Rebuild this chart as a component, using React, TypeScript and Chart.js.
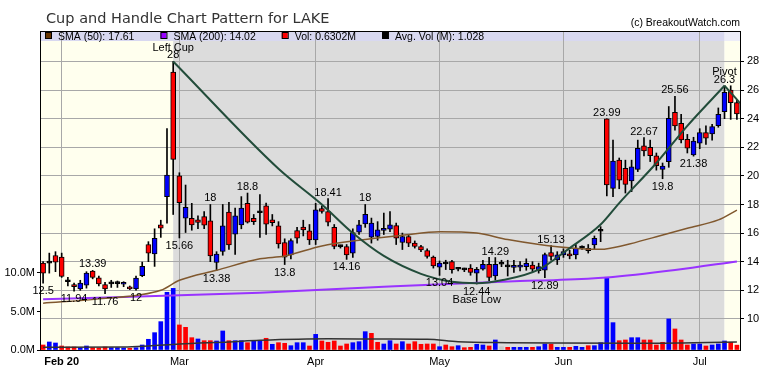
import React, { useEffect, useRef } from 'react';
import Chart from 'chart.js/auto';

// ---- candle data (trading-day index 0 = Jan 29 2020) ----
const opens = [
  13.9, 13.9, 14.43, 14.32, 12.65, 12.4, 12.1, 12.36, 13.35, 12.87,
  12.4, 12.45, 12.47, 12.42, 12.23, 12.1, 13.02, 15.2, 14.55, 16.57,
  18.55, 27.26, 20.0, 17.04, 17.04, 16.92, 17.15, 16.85, 13.94, 14.71,
  17.46, 15.92, 16.57, 18.08, 17.04, 17.45, 17.9, 16.92, 16.5, 15.34,
  14.48, 16.18, 16.42, 16.15, 15.53, 17.72, 17.5, 16.4, 15.07, 15.06,
  14.6, 16.06, 16.64, 15.71, 15.76, 16.18, 16.27, 16.52, 15.34, 15.76,
  15.3, 15.06, 14.78, 14.32, 13.62, 13.86, 14.0, 13.5, 13.45, 13.55,
  13.19, 13.47, 13.82, 13.0, 13.85, 13.66, 13.6, 13.62, 13.65, 13.77,
  13.37, 13.4, 14.64, 14.13, 14.48, 14.55, 14.48, 14.98, 14.94, 15.17,
  16.17, 23.99, 19.13, 21.1, 20.53, 19.64, 20.46, 22.1, 22.0, 21.41,
  20.46, 20.99, 24.45, 23.68, 22.56, 21.46, 22.28, 23.02, 22.93, 23.51,
  24.49, 26.0, 25.12,
];
const highs = [
  14.0, 14.6, 14.7, 14.6, 12.9, 12.5, 12.7, 13.3, 13.39, 13.0,
  12.55, 12.7, 12.65, 12.6, 12.3, 13.0, 13.97, 15.4, 16.3, 16.9,
  23.3, 28, 20.22, 19.36, 18.08, 17.2, 17.5, 18, 14.7, 18.0,
  18.15, 17.75, 18.55, 18.8, 17.3, 18.7, 18.1, 17.3, 16.8, 15.6,
  15.6, 16.4, 16.9, 16.6, 18.08, 17.9, 18.41, 16.6, 15.15, 15.2,
  16.3, 16.9, 18, 17.05, 16.8, 17.4, 17.5, 16.7, 16.0, 15.9,
  15.45, 15.15, 14.9, 14.4, 14.05, 14.1, 14.1, 13.6, 13.55, 13.8,
  13.6, 14.1, 14.3, 14.29, 14.1, 14.1, 14.1, 14.0, 14.2, 14.0,
  13.9, 14.6, 15.13, 14.7, 14.9, 14.8, 15.2, 15.1, 15.2, 15.8,
  16.45, 23.99, 22.5, 21.25, 21.1, 21.1, 22.5, 22.67, 22.5, 21.6,
  20.9, 24.85, 25.56, 24.3, 22.9, 22.7, 23.3, 23.5, 23.6, 24.75,
  26.3, 26.3, 25.3,
];
const lows = [
  12.5, 13.2, 13.3, 12.9, 12.3, 11.94, 12.0, 12.15, 12.8, 12.3,
  11.76, 12.2, 12.2, 12.25, 12.05, 12, 12.95, 14.0, 13.67, 15.7,
  16.7, 17.3, 15.66, 16.04, 16.2, 16.3, 16.3, 14.0, 13.38, 14.45,
  14.85, 14.5, 16.3, 16.7, 16.6, 15.7, 15.9, 16.5, 14.95, 13.8,
  14.2, 15.3, 15.8, 15.2, 15.2, 17.4, 16.5, 14.9, 14.95, 14.16,
  14.3, 15.9, 16.4, 15.3, 15.5, 15.9, 16.1, 15.2, 14.85, 15.05,
  14.95, 14.7, 14.25, 13.55, 13.04, 13.45, 13.2, 13.35, 13.3, 13.05,
  12.44, 13.4, 12.67, 12.72, 13.65, 13.0, 13.25, 13.35, 13.4, 13.3,
  13.2, 12.89, 14.1, 13.8, 14.3, 14.2, 14.2, 14.85, 14.6, 14.85,
  15.4, 18.6, 18.55, 19.1, 18.8, 18.9, 20.3, 21.4, 21.0, 20.4,
  19.8, 20.6, 23.2, 22.3, 21.6, 21.38, 21.9, 22.2, 22.5, 23.4,
  24.0, 23.95, 23.95,
];
const closes = [
  13.2, 13.92, 13.97, 12.97, 12.6, 12.25, 12.5, 13.2, 12.9, 12.45,
  12.1, 12.47, 12.48, 12.5, 12.1, 12.86, 13.67, 14.6, 15.64, 16.35,
  20.06, 21.15, 18.13, 17.8, 16.57, 16.75, 16.55, 14.41, 14.53, 16.5,
  15.18, 17.2, 17.74, 16.76, 16.8, 17.42, 16.62, 16.73, 15.25, 14.32,
  15.48, 15.65, 16.22, 15.53, 17.62, 17.52, 16.76, 15.06, 15.05, 14.48,
  16.04, 16.57, 17.32, 16.7, 16.22, 16.34, 16.57, 15.64, 15.76, 15.3,
  15.06, 14.83, 14.36, 13.71, 13.9, 13.84, 13.44, 13.47, 13.43, 13.25,
  13.47, 13.82, 12.9, 13.82, 13.82, 13.64, 13.72, 13.74, 13.89, 13.47,
  13.65, 14.5, 14.36, 14.48, 14.71, 14.4, 14.94, 14.96, 14.77, 15.64,
  16.13, 19.36, 21.04, 19.7, 19.41, 20.64, 21.93, 21.74, 21.41, 20.71,
  20.69, 24.03, 23.5, 22.51, 21.93, 22.44, 23.02, 22.63, 23.44, 24.31,
  25.85, 25.12, 24.33,
];
// volume in millions
const volumes = [
  0.65, 1.04, 0.91, 0.52, 0.39, 0.39, 0.3, 0.52, 0.3, 0.26,
  0.39, 0.3, 0.3, 0.26, 0.22, 0.3, 0.65, 1.39, 2.25, 3.68,
  7.49, 8.0, 3.25, 2.94, 1.6, 1.43, 1.21, 1.21, 1.17, 2.47,
  1.21, 1.21, 1.21, 0.95, 1.2, 1.25, 1.52, 0.74, 0.95, 0.87,
  0.56, 0.95, 0.95, 0.52, 2.03, 1.17, 1.0, 1.17, 0.52, 0.78,
  0.95, 1.08, 2.38, 2.16, 1.0, 0.78, 1.21, 0.78, 1.08, 0.78,
  1.08, 0.74, 0.78, 0.78, 0.43, 0.65, 0.43, 0.56, 0.3, 0.35,
  0.74, 0.65, 0.52, 1.3, 0.43, 0.35, 0.35, 0.35, 0.35, 0.35,
  0.43, 0.78, 0.74, 0.35, 0.35, 0.35, 0.48, 0.35, 0.56, 0.56,
  0.95, 9.44, 3.55, 1.21, 1.3, 1.6, 1.6, 1.3, 1.3, 0.65,
  1.0, 4.03, 2.73, 1.3, 0.65, 0.78, 0.78, 0.52, 0.65, 0.78,
  1.17, 1.0, 0.63,
];

// ---- indicator lines (index, value) ----
const sma50Idx = [0, 9, 19, 22, 28, 35, 39, 45, 51, 58, 64, 70, 75, 83, 90, 94, 99, 104, 109, 112];
const sma50Val = [11.1, 11.4, 12.0, 12.7, 13.4, 14.2, 14.4, 15.1, 15.5, 15.85, 16.1, 16.0, 15.55, 15.05, 14.87, 15.17, 15.75, 16.34, 16.92, 17.61];
const sma200Idx = [0, 35, 55, 77, 83, 91, 102, 112];
const sma200Val = [11.37, 11.83, 12.25, 12.65, 12.72, 12.9, 13.42, 14.02];
const avgVolIdx = [0, 13, 17, 22, 30, 35, 46, 55, 62, 67, 75, 83, 95, 105, 112];
const avgVolVal = [0.35, 0.38, 0.52, 0.78, 1.05, 1.25, 1.45, 1.43, 1.4, 1.08, 0.95, 0.9, 0.87, 0.95, 1.03];

// ---- cup & handle pattern ----
const cupIdx = [21, 38, 45, 50, 55, 61, 66, 70, 74, 80, 85, 90, 93, 99, 104, 110];
const cupVal = [28, 20.5, 18.0, 16.0, 14.4, 13.15, 12.6, 12.5, 12.7, 13.45, 14.95, 16.6, 18.1, 20.9, 23.5, 26.3];
const handleIdx = [110, 112.5];
const handleVal = [26.3, 25.1];
const leftCupIdx = 21;
const pivotIdx = 110;

// ---- labels ----
const highLabelIdx = [8, 21, 27, 33, 46, 52, 73, 82, 91, 97, 102, 110];
const lowLabelIdx = [0, 5, 10, 15, 22, 28, 39, 49, 64, 70, 81, 100, 105];
const noteText = ['Left Cup', 'Base Low', 'Pivot'];
const noteIdx = [21, 70, 110];
const noteAbove = [true, false, true];

const monthTickIdx = [3, 22, 44, 64, 84, 106];
const monthLabels = ['Feb 20', 'Mar', 'Apr', 'May', 'Jun', 'Jul'];
const priceTicks = [10, 12, 14, 16, 18, 20, 22, 24, 26, 28];
const volTicks = [0, 5, 10];
const volTickLabels = ['0.0M', '5.0M', '10.0M'];

const legendNames = ['SMA (50): 17.61', 'SMA (200): 14.02', 'Vol: 0.6302M', 'Avg. Vol (M): 1.028'];
const legendColors = ['#663300', '#9900ff', '#ff0000', '#000000'];
const titleText = 'Cup and Handle Chart Pattern for LAKE';
const creditText = '(c) BreakoutWatch.com';

const FONT = "'Liberation Sans', Arial, sans-serif";

const decorPlugin = {
  id: 'decor',
  beforeDraw(chart: any) {
    const { ctx, chartArea: ca, scales } = chart;
    const xs = scales.x;
    const xl = xs.getPixelForValue(leftCupIdx);
    const xp = xs.getPixelForValue(pivotIdx);
    const h = ca.bottom - ca.top;
    ctx.save();
    ctx.fillStyle = '#ffffee';
    ctx.fillRect(ca.left, ca.top, xl - ca.left, h);
    ctx.fillStyle = '#dcdcdc';
    ctx.fillRect(xl, ca.top, xp - xl, h);
    ctx.fillStyle = '#ffffee';
    ctx.fillRect(xp, ca.top, ca.right - xp, h);
    ctx.fillStyle = '#d8d8f0';
    ctx.fillRect(ca.left, ca.top, xp - ca.left, 10);
    ctx.fillStyle = '#ededf8';
    ctx.fillRect(xp, ca.top, ca.right - xp, 10);
    ctx.restore();
  },
  afterDraw(chart: any) {
    const { ctx, chartArea: ca, scales } = chart;
    const xs = scales.x;
    const yp = scales.yp;
    ctx.save();
    ctx.strokeStyle = '#000';
    ctx.lineWidth = 1;
    ctx.beginPath();
    ctx.moveTo(ca.left, ca.top + 0.5);
    ctx.lineTo(ca.right, ca.top + 0.5);
    ctx.stroke();
    ctx.fillStyle = '#333';
    ctx.font = "14.5px 'DejaVu Sans', sans-serif";
    ctx.textAlign = 'left';
    ctx.textBaseline = 'alphabetic';
    ctx.fillText(titleText, 46, 23);
    ctx.fillStyle = '#000';
    ctx.font = '10.5px ' + FONT;
    ctx.textAlign = 'right';
    ctx.fillText(creditText, ca.right, 26);
    ctx.textAlign = 'left';
    let lx = ca.left + 5;
    legendNames.forEach((name, i) => {
      ctx.fillStyle = legendColors[i];
      ctx.fillRect(lx, ca.top + 1.5, 6, 6);
      ctx.strokeStyle = '#000';
      ctx.strokeRect(lx + 0.5, ca.top + 1.5, 6, 6);
      ctx.fillStyle = '#000';
      ctx.fillText(name, lx + 13, ca.top + 8.5);
      lx += 13 + ctx.measureText(name).width + 26;
    });
    ctx.font = '11px ' + FONT;
    ctx.textAlign = 'center';
    ctx.fillStyle = '#000';
    highLabelIdx.forEach((i) => {
      ctx.fillText(String(highs[i]), xs.getPixelForValue(i), yp.getPixelForValue(highs[i]) - 3);
    });
    lowLabelIdx.forEach((i) => {
      ctx.fillText(String(lows[i]), xs.getPixelForValue(i), yp.getPixelForValue(lows[i]) + 11);
    });
    noteText.forEach((t, k) => {
      const i = noteIdx[k];
      const x = xs.getPixelForValue(i);
      if (noteAbove[k]) ctx.fillText(t, x, yp.getPixelForValue(highs[i]) - 10.5);
      else ctx.fillText(t, x, yp.getPixelForValue(lows[i]) + 19.5);
    });
    ctx.restore();
  },
};

export default function App() {
  const ref = useRef<HTMLCanvasElement>(null);
  useEffect(() => {
    const canvas = ref.current;
    if (!canvas) return;
    const bodyColors = opens.map((o, i) => {
      const c = closes[i];
      if (Math.abs(c - o) < 0.08) return '#000000';
      return c > o ? '#0000ff' : '#ff0000';
    });
    const volColors = closes.map((c, i) => {
      const prev = i === 0 ? opens[0] : closes[i - 1];
      if (c === prev) return '#c8c8c8';
      return c > prev ? '#0000ff' : '#ff0000';
    });
    const chart = new Chart(canvas, {
      type: 'bar',
      data: {
        datasets: [
          {
            type: 'bar', label: 'vol', yAxisID: 'yv', xAxisID: 'x',
            data: volumes.map((v, i) => ({ x: i, y: v })),
            backgroundColor: volColors, barThickness: 4, grouped: false, order: 10,
          } as any,
          {
            type: 'line', label: 'avgvol', yAxisID: 'yv', xAxisID: 'x',
            data: avgVolIdx.map((x, i) => ({ x, y: avgVolVal[i] })),
            borderColor: '#333333', borderWidth: 1.5, pointRadius: 0,
            cubicInterpolationMode: 'monotone', order: 9,
          },
          {
            type: 'bar', label: 'wick', yAxisID: 'yp', xAxisID: 'x',
            data: highs.map((h, i) => ({ x: i, y: [lows[i], h] })),
            backgroundColor: '#000000', barThickness: 1, grouped: false, order: 6,
          },
          {
            type: 'bar', label: 'body', yAxisID: 'yp', xAxisID: 'x',
            data: opens.map((o, i) => ({ x: i, y: [o, closes[i]] })),
            backgroundColor: bodyColors, borderColor: '#000000', borderWidth: 1,
            borderSkipped: false, barThickness: 5, minBarLength: 2, grouped: false, order: 5,
          },
          {
            type: 'line', label: 'sma200', yAxisID: 'yp', xAxisID: 'x',
            data: sma200Idx.map((x, i) => ({ x, y: sma200Val[i] })),
            borderColor: '#9933ff', borderWidth: 2, pointRadius: 0,
            cubicInterpolationMode: 'monotone', order: 4,
          },
          {
            type: 'line', label: 'sma50', yAxisID: 'yp', xAxisID: 'x',
            data: sma50Idx.map((x, i) => ({ x, y: sma50Val[i] })),
            borderColor: '#80582e', borderWidth: 1.5, pointRadius: 0,
            cubicInterpolationMode: 'monotone', order: 3,
          },
          {
            type: 'line', label: 'cup', yAxisID: 'yp', xAxisID: 'x',
            data: cupIdx.map((x, i) => ({ x, y: cupVal[i] })),
            borderColor: '#224c3a', borderWidth: 2, pointRadius: 0,
            cubicInterpolationMode: 'monotone', order: 2,
          },
          {
            type: 'line', label: 'handle', yAxisID: 'yp', xAxisID: 'x',
            data: handleIdx.map((x, i) => ({ x, y: handleVal[i] })),
            borderColor: '#224c3a', borderWidth: 2, pointRadius: 0, tension: 0, order: 1,
          },
        ] as any,
      },
      options: {
        responsive: false,
        animation: false,
        devicePixelRatio: 1,
        layout: { padding: { top: 31, left: 0, right: 0, bottom: 0 } },
        plugins: { legend: { display: false }, tooltip: { enabled: false }, title: { display: false } },
        scales: {
          x: {
            type: 'linear', min: -0.5, max: 112.5, offset: false, bounds: 'data',
            afterBuildTicks: (s: any) => { s.ticks = monthTickIdx.map((v) => ({ value: v })); },
            afterFit: (s: any) => { s.height = 26; },
            ticks: {
              autoSkip: false, maxRotation: 0, padding: 5, color: '#000',
              callback: (v: any) => monthLabels[monthTickIdx.indexOf(v)] ?? '',
              font: (c: any) => ({ family: FONT, size: 11, weight: c.index === 0 ? 'bold' : 'normal' }),
            },
            grid: { color: '#a8a8a8', drawTicks: false, lineWidth: 1, offset: false },
            border: { color: '#000', width: 1 },
          },
          yp: {
            type: 'linear', position: 'right', min: 7.825, max: 30.13,
            afterBuildTicks: (s: any) => { s.ticks = priceTicks.map((v) => ({ value: v })); },
            afterFit: (s: any) => { s.width = 40; },
            ticks: { padding: 3, color: '#000', font: { family: FONT, size: 11 }, callback: (v: any) => String(v) },
            grid: { color: '#a8a8a8', tickColor: '#000', tickLength: 4, lineWidth: 1 },
            border: { color: '#000', width: 1 },
          },
          yv: {
            type: 'linear', position: 'left', min: 0, max: 41.4,
            afterBuildTicks: (s: any) => { s.ticks = volTicks.map((v) => ({ value: v })); },
            afterFit: (s: any) => { s.width = 40; },
            ticks: {
              padding: 2, color: '#000', font: { family: FONT, size: 11 },
              callback: (v: any) => volTickLabels[volTicks.indexOf(v)] ?? '',
            },
            grid: { drawOnChartArea: false, tickColor: '#000', tickLength: 3 },
            border: { color: '#000', width: 1 },
          },
        },
      } as any,
      plugins: [decorPlugin],
    });
    return () => chart.destroy();
  }, []);
  return (
    <div style={{ position: 'absolute', left: 0, top: 0, width: 780, height: 376, background: '#fff' }}>
      <canvas ref={ref} width={780} height={376} style={{ display: 'block', width: 780, height: 376 }} />
    </div>
  );
}
